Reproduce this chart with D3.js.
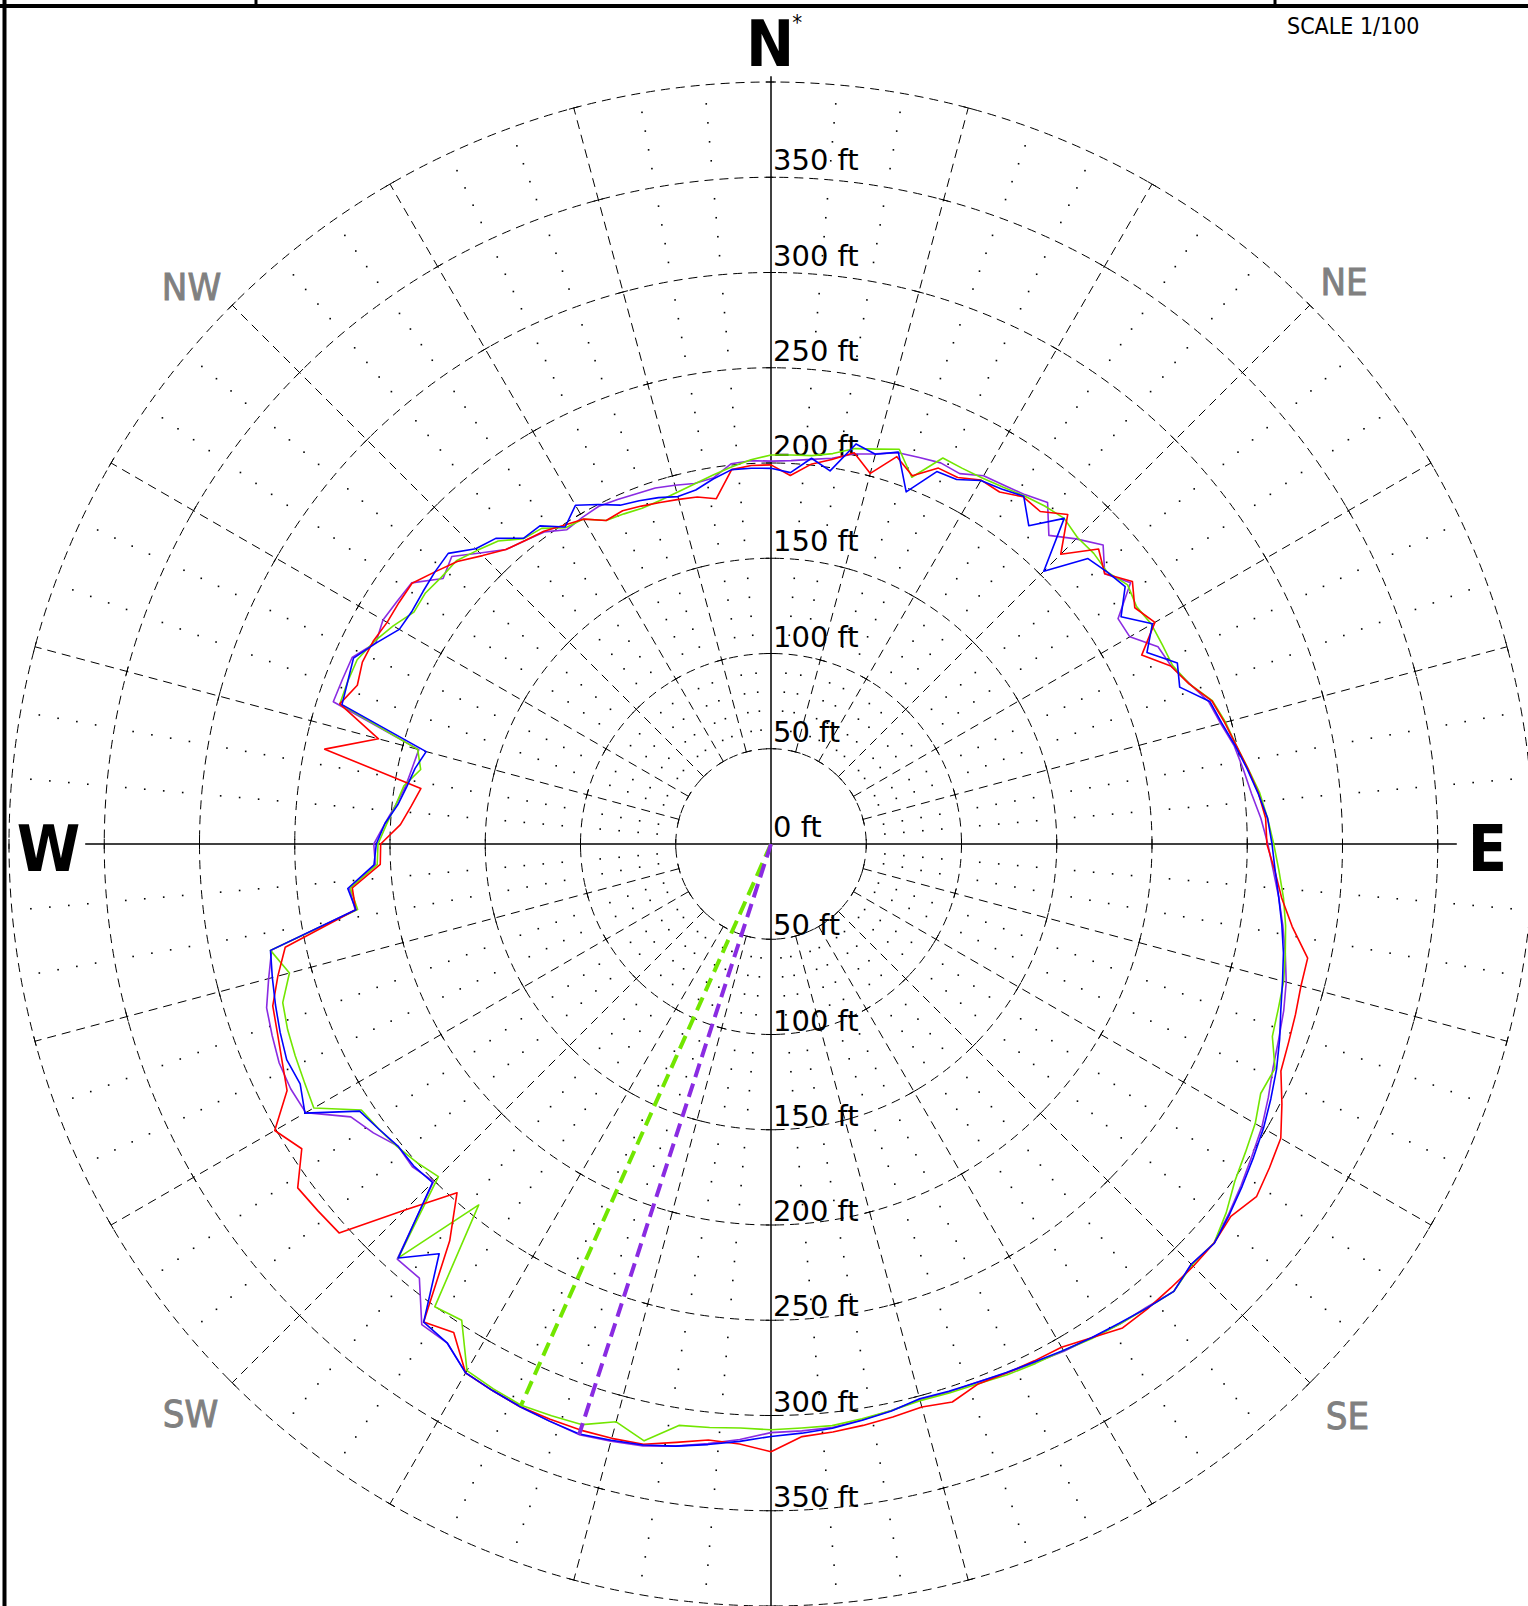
<!DOCTYPE html>
<html><head><meta charset="utf-8">
<script src="https://cdn.jsdelivr.net/npm/d3@7"></script>
<style>body{margin:0;background:#fff}svg{display:block}</style>
</head><body>
<svg id="chart" width="1528" height="1606"></svg>
<script>
// ---------- DATA ----------
const bearings = d3.range(0, 360, 3); // degrees clockwise from north
const redDist = [199,193.7,200.4,204.4,210,201.4,213.8,207,216,215.9,220.6,220.3,225.3,224.6,232.8,215.1,231.4,225.4,234.5,227.7,232.7,218.4,229.7,234.9,243.3,246.5,249.6,253.4,257.2,260,
 260.3,264.8,269.5,277,288,288,289.5,291,293,301,309,312,315,310.6,313,313.5,313.6,314,314,309,305,304.5,304,303.6,308,306,307.5,309,310.4,311.5,
 319,315.4,314.6,318,322.1,323,323.5,323.5,323.4,322,320.6,305.8,310.2,268,246.3,271.7,305.1,306,307.1,293.7,300.8,285.1,280.9,277.5,275,268,260.7,220.7,221,205.4,
 204.9,194.8,189.9,186.1,239.5,213.3,238,232.6,234.8,234.4,232.7,232.8,232.9,227,221.6,214.1,208,205,202.9,199.5,196.9,190.6,191.5,190,188.5,187.3,186.2,183.5,197.6,199];
const blueDist = [197.2,195.2,203.6,198.3,214.7,211.8,216.3,198,214,214.7,220.3,222.2,225.7,215,230,202.5,223.9,227,229.8,219.1,231.2,221.5,233.5,229.8,242.2,245,249,253,257,261,
 263,265,268,271.5,275,278,281.4,286,290.5,294.5,298.5,302,305.7,309.5,313.2,312,316,313.5,311,309,307,305,303.7,302.6,302,301.5,304.3,306.3,308.4,309.7,
 311,314,317,320,322.5,324,325.6,324.5,323.4,322,320.6,312.2,310.2,276.8,292.4,251.3,252.5,252,254.5,257.5,282.5,277.4,278.3,276,273.5,271,268.6,220.6,223.4,208.7,
 207.2,203,197,193.5,191,187.4,236.8,238,239.9,232.5,225.3,224.6,225.7,227,228,219.2,215.9,206.5,206.4,198.4,205.3,200,194.7,193,191.2,188.8,190,194,197.6,197.5];
const purpleDist = [201,201.5,203,205,209.3,212,216,217.3,219,218.2,223.2,224.6,226.7,230.7,218,226.5,234.6,225.4,233.3,217.2,217.5,228,229.9,235.2,241.6,244.4,248.5,251,253.6,257.5,
 260.8,264,268,272,276,280,283,285.5,288.5,293,297.5,301,305,309,313,312,316,313,311.5,309,307.5,305.5,304,302.5,302.5,302,304,306,308,308.5,
 309,313,316.5,320,323,324.5,326,324.5,323.5,322,320.6,312.2,311.9,293.3,293.2,250.5,253.3,252,258,263,282,283,282.6,280.5,278.4,273,268,221,222.5,208,
 208.5,203,198,194.2,192.5,191.4,241.6,241,240.7,232.8,235.2,234,233.2,221.5,225.5,216,208,205,202.5,196.7,198,199,198,197,196.5,195,193.5,194.5,200.7,201.5];
const greenDist = [204.2,204.5,205,207.5,212.2,214.6,217.9,206.2,221.8,221.3,221.8,223.4,226,228.3,230,227.5,228,227,231.4,228.8,230.6,230.5,230.7,235,243.6,247,249.6,253.5,257.9,261,
 263.9,267,270.5,273.5,276,278.6,280,281.9,289.6,288.5,293.5,297,301,307.5,313,312.5,316,313.5,311.5,309.5,307,306,305,303.5,303,302.5,304,305.5,307,307,
 307.5,307,308,309,320.3,314,320.5,321.5,322.5,321,319.2,298.1,300.3,243.8,292.4,246.9,250,252.5,254.5,256.4,277.1,275,273.4,271.8,269.5,261.7,268.6,219.7,222,207,
 206.3,202,198,195.1,188,192,238,238,237.8,233.9,229,223.5,224.2,222.6,222.2,218,214,206.3,204.8,197.9,197,190.6,189.7,188.8,189.5,191,193.2,196,199,202];
const seriesNames = ["purple", "green", "red", "blue"];
const maxBearings = [204, 198];      // dashed radial lines (green, purple)
const maxDistances = [323, 326];
const maxNames = ["green", "purple"];
const ringValues = [50, 100, 150, 200, 250, 300, 350, 400];
const labelNorth = [0, 50, 100, 150, 200, 250, 300, 350];
const labelSouth = [50, 100, 150, 200, 250, 300, 350];
const compass = ["N", "E", "W"];
const intercardinal = ["NE", "SE", "SW", "NW"];

// ---------- STYLE / LAYOUT ----------
const colors = {red: "#ff0000", blue: "#0000ff", purple: "#8a2be2", green: "#72e600"};
const seriesData = {red: redDist, blue: blueDist, purple: purpleDist, green: greenDist};
const icPos = [[1344, 295], [1347.5, 1429], [190.5, 1426.5], [191.5, 300]];
const cx = 771, cy = 844;
const r = d3.scaleLinear().domain([0, 400]).range([0, 762]);
const rad = d => d * Math.PI / 180;
const px = (b, d) => cx + r(d) * Math.sin(rad(b));
const py = (b, d) => cy - r(d) * Math.cos(rad(b));

const svg = d3.select("#chart");

// frame
svg.append("line").attr("x1", 4.5).attr("x2", 4.5).attr("y1", 0).attr("y2", 1606).attr("stroke", "#000").attr("stroke-width", 4);
svg.append("line").attr("x1", 0).attr("x2", 1528).attr("y1", 6).attr("y2", 6).attr("stroke", "#000").attr("stroke-width", 4);
[256, 1275].forEach(x => svg.append("line").attr("x1", x).attr("x2", x).attr("y1", 0).attr("y2", 6).attr("stroke", "#000").attr("stroke-width", 3));

const grid = svg.append("g");
// rings
grid.selectAll("circle.ring").data(ringValues).enter().append("circle")
  .attr("cx", cx).attr("cy", cy).attr("r", d => r(d))
  .attr("fill", "none").attr("stroke", "#000").attr("stroke-width", 1).attr("stroke-dasharray", "9,6");
// dashed spokes (every 15 deg, except axes)
const spokeAngles = d3.range(0, 360, 15).filter(a => a % 90 !== 0);
grid.selectAll("line.spoke").data(spokeAngles).enter().append("line")
  .attr("x1", d => px(d, 50)).attr("y1", d => py(d, 50))
  .attr("x2", d => px(d, 400)).attr("y2", d => py(d, 400))
  .attr("stroke", "#000").attr("stroke-width", 1).attr("stroke-dasharray", "9,6");
// ticks at spoke/ring crossings
const tickPts = [];
d3.range(0, 360, 15).forEach(a => ringValues.forEach(v => tickPts.push([a, v])));
grid.selectAll("line.tick").data(tickPts).enter().append("line")
  .attr("x1", d => px(d[0], d[1]) - 5 * Math.cos(rad(d[0])))
  .attr("y1", d => py(d[0], d[1]) - 5 * Math.sin(rad(d[0])))
  .attr("x2", d => px(d[0], d[1]) + 5 * Math.cos(rad(d[0])))
  .attr("y2", d => py(d[0], d[1]) + 5 * Math.sin(rad(d[0])))
  .attr("stroke", "#000").attr("stroke-width", 1);
// dotted spokes
const dotPts = [];
d3.range(0, 360, 5).filter(a => a % 15 !== 0).forEach(a =>
  d3.range(60, 400, 10).filter(v => v % 50 !== 0).forEach(v => dotPts.push([a, v])));
grid.selectAll("rect.dot").data(dotPts).enter().append("rect")
  .attr("x", d => px(d[0], d[1]) - 0.8).attr("y", d => py(d[0], d[1]) - 0.8)
  .attr("width", 1.6).attr("height", 1.6).attr("fill", "#000");
// solid axes
grid.append("line").attr("x1", cx).attr("x2", cx).attr("y1", py(0, 403)).attr("y2", 1606).attr("stroke", "#000").attr("stroke-width", 1.5);
grid.append("line").attr("x1", px(270, 360)).attr("x2", px(90, 360)).attr("y1", cy).attr("y2", cy).attr("stroke", "#000").attr("stroke-width", 1.5);

// distance labels
const lab = svg.append("g").attr("font-family", "DejaVu Sans").attr("font-size", 29).attr("fill", "#000");
lab.selectAll("text.n").data(labelNorth).enter().append("text")
  .attr("x", cx + 2).attr("y", d => cy - r(d) - 7).text(d => d + " ft");
lab.selectAll("text.s").data(labelSouth).enter().append("text")
  .attr("x", cx + 2).attr("y", d => cy + r(d) - 4).text(d => d + " ft");

// series curves
const g = svg.append("g").attr("transform", `translate(${cx},${cy})`);
const lineR = d3.lineRadial().angle(d => rad(d[0])).radius(d => r(d[1])).curve(d3.curveLinearClosed);
seriesNames.forEach(name => {
  const pts = bearings.map((b, i) => [b, seriesData[name][i]]);
  g.append("path").attr("d", lineR(pts)).attr("fill", "none")
    .attr("stroke", colors[name]).attr("stroke-width", 1.6).attr("stroke-linejoin", "round");
});
// dashed max-distance lines
maxNames.forEach((name, i) => {
  g.append("line").attr("x1", 0).attr("y1", 0)
    .attr("x2", r(maxDistances[i]) * Math.sin(rad(maxBearings[i])))
    .attr("y2", -r(maxDistances[i]) * Math.cos(rad(maxBearings[i])))
    .attr("stroke", colors[name]).attr("stroke-width", 4).attr("stroke-dasharray", "14,7");
});

// compass letters
const big = svg.append("g").attr("font-family", "DejaVu Sans Condensed, DejaVu Sans").attr("font-weight", "bold")
  .attr("font-size", 64).attr("fill", "#000");
const nText = big.append("text").attr("x", 746).attr("y", 65.5);
nText.append("tspan").text(compass[0]);
nText.append("tspan").attr("font-size", 22).attr("font-weight", "normal").attr("dy", -36).attr("dx", -2).text("*");
big.append("text").attr("x", 1487.5).attr("y", 870.5).attr("text-anchor", "middle").text(compass[1]);
big.append("text").attr("x", 48.6).attr("y", 870.5).attr("text-anchor", "middle").text(compass[2]);

svg.selectAll("text.ic").data(intercardinal).enter().append("text")
  .attr("x", (d, i) => icPos[i][0]).attr("y", (d, i) => icPos[i][1])
  .attr("text-anchor", "middle").attr("font-family", "DejaVu Sans Condensed, DejaVu Sans")
  .attr("font-size", 38).attr("fill", "#808080").attr("stroke", "#808080").attr("stroke-width", 0.9)
  .text(d => d);

svg.append("text").attr("x", 1287).attr("y", 34).attr("font-family", "DejaVu Sans Condensed, DejaVu Sans")
  .attr("font-size", 23).attr("fill", "#000").text("SCALE 1/100");
</script>
</body></html>
